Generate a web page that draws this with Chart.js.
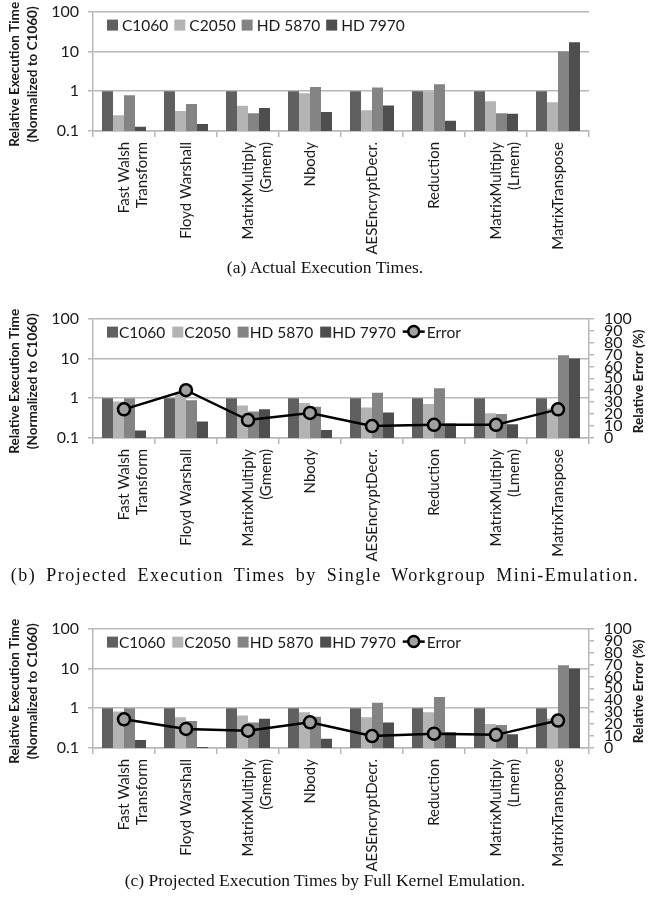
<!DOCTYPE html>
<html>
<head>
<meta charset="utf-8">
<title>Relative Execution Time</title>
<script src="https://cdn.jsdelivr.net/npm/chart.js"></script>
<style>
  body { margin: 0; width: 650px; height: 920px; background: #fff; position: relative; overflow: hidden; }
  .panel { position: absolute; left: 0; width: 650px; }
  .cap { position: absolute; left: 0; width: 650px; text-align: center; font-family: 'Liberation Serif', 'Times New Roman', serif; font-size: 17.5px; color: #111; line-height: 20px; white-space: nowrap; }
  .wide { font-size: 18px; letter-spacing: 1.5px; word-spacing: 4px; }
</style>
</head>
<body>
<div class="panel" style="top:-7px"><canvas id="chartA" width="650" height="270"></canvas></div>
<div class="cap" style="top:257px">(a) Actual Execution Times.</div>
<div class="panel" style="top:300px"><canvas id="chartB" width="650" height="270"></canvas></div>
<div class="cap wide" style="top:565px">(b) Projected Execution Times by Single Workgroup Mini-Emulation.</div>
<div class="panel" style="top:610px"><canvas id="chartC" width="650" height="262"></canvas></div>
<div class="cap" style="top:870px">(c) Projected Execution Times by Full Kernel Emulation.</div>

<script>
// benchmarks and devices
const benchmarks = [['Fast Walsh', 'Transform'], 'Floyd Warshall', ['MatrixMultiply', '(Gmem)'], 'Nbody',
                    'AESEncryptDecr.', 'Reduction', ['MatrixMultiply', '(Lmem)'], 'MatrixTranspose'];
const devices = ['C1060', 'C2050', 'HD 5870', 'HD 7970'];
const timeTicks = [0.1, 1, 10, 100];

// (a) actual execution times, normalized to C1060
const actualC1060  = [1, 1, 1, 1, 1, 1, 1, 1];
const actualC2050  = [0.25, 0.32, 0.43, 0.89, 0.33, 1.0, 0.56, 0.53];
const actualHD5870 = [0.79, 0.48, 0.28, 1.28, 1.24, 1.5, 0.28, 10];
const actualHD7970 = [0.128, 0.15, 0.38, 0.30, 0.44, 0.18, 0.27, 17];

// (b) single workgroup mini-emulation
const miniC1060  = [1, 1, 1, 1, 1, 1, 1, 1];
const miniC2050  = [0.83, 1.33, 0.66, 0.76, 0.58, 0.72, 0.42, 0.55];
const miniHD5870 = [1.0, 0.89, 0.46, 0.61, 1.38, 1.78, 0.40, 12];
const miniHD7970 = [0.155, 0.26, 0.53, 0.16, 0.44, 0.23, 0.22, 10];
const miniError  = [24, 40, 15, 21, 10, 11, 11, 24];

// (c) full kernel emulation
const fullC1060  = [1, 1, 1, 1, 1, 1, 1, 1];
const fullC2050  = [0.83, 0.59, 0.66, 0.79, 0.59, 0.79, 0.40, 0.55];
const fullHD5870 = [1.0, 0.48, 0.44, 0.61, 1.38, 1.9, 0.38, 12];
const fullHD7970 = [0.16, 0.106, 0.54, 0.17, 0.44, 0.25, 0.22, 10];
const fullError  = [24, 16, 14.5, 21.5, 10, 12, 11, 23];

const barColors = ['#606060', '#b4b4b4', '#848484', '#4e4e4e'];
const gridGray = '#b8b8b8';
const textColor = '#1a1a1a';
const sans = 'Lato, Carlito, "Open Sans", sans-serif';

// legend drawn inside the plot area, like the original
const insideLegend = {
    id: 'insideLegend',
    afterDraw(chart, args, opts) {
        const ctx = chart.ctx;
        const area = chart.chartArea;
        let x = area.left + opts.left;
        const y = area.top + opts.top;
        ctx.save();
        ctx.font = '15.5px ' + sans;
        ctx.textBaseline = 'middle';
        chart.data.datasets.forEach(ds => {
            if (ds.type === 'line') {
                ctx.strokeStyle = ds.borderColor;
                ctx.lineWidth = 2.5;
                ctx.beginPath(); ctx.moveTo(x, y); ctx.lineTo(x + 22, y); ctx.stroke();
                ctx.beginPath(); ctx.arc(x + 11, y, 5.5, 0, Math.PI * 2);
                ctx.fillStyle = ds.pointBackgroundColor; ctx.fill(); ctx.stroke();
                x += 24;
            } else {
                ctx.fillStyle = ds.backgroundColor;
                ctx.fillRect(x, y - 5, 11, 11);
                x += opts.boxGap;
            }
            ctx.fillStyle = textColor;
            ctx.fillText(ds.label, x, y + 1);
            x += ctx.measureText(ds.label).width + opts.gap;
        });
        ctx.restore();
    }
};

// axis titles, rotated to read bottom to top on both sides
const sideTitles = {
    id: 'sideTitles',
    afterDraw(chart, args, opts) {
        const ctx = chart.ctx;
        const area = chart.chartArea;
        const cy = (area.top + area.bottom) / 2 + opts.shift;
        ctx.save();
        ctx.textAlign = 'center';
        ctx.textBaseline = 'middle';
        ctx.font = 'bold 13.5px ' + sans;
        ctx.fillStyle = textColor;
        opts.items.forEach(t => {
            ctx.save();
            ctx.translate(t.x, cy);
            ctx.rotate(-Math.PI / 2);
            ctx.fillText(t.text, 0, 0);
            ctx.restore();
        });
        ctx.restore();
    }
};

function makeChart(id, series, error, legendGap, boxGap) {
    const canvas = document.getElementById(id);
    const H = canvas.height;
    const topPad = 18;
    const datasets = series.map((vals, i) => ({
        type: 'bar',
        label: devices[i],
        data: vals,
        backgroundColor: barColors[i],
        yAxisID: 'y',
        order: 1
    }));
    const titles = [
        { text: 'Relative Execution Time', x: 15 },
        { text: '(Normalized to C1060)', x: 33 }
    ];
    const scales = {
        x: {
            offset: true,
            grid: { offset: true, drawOnChartArea: false, tickLength: 6, color: gridGray, lineWidth: 1.5 },
            border: { color: gridGray, width: 1.5 },
            ticks: { autoSkip: false, maxRotation: 90, minRotation: 90, padding: 5, color: textColor,
                     font: { family: sans, size: 15, lineHeight: 1.2 } },
            afterFit: s => { s.height = H - topPad - 120; }
        },
        y: {
            type: 'logarithmic',
            position: 'left',
            min: 0.1,
            max: 100,
            afterBuildTicks: s => { s.ticks = timeTicks.map(v => ({ value: v })); },
            ticks: { autoSkip: false, padding: 9, color: textColor, font: { family: sans, size: 16 },
                     callback: v => String(v) },
            grid: { color: gridGray, lineWidth: 1.5, tickLength: 5 },
            border: { color: gridGray, width: 1.5 },
            afterFit: s => { s.width = 93; }
        }
    };
    let rightPad = 61;
    if (error) {
        datasets.push({
            type: 'line',
            label: 'Error',
            data: error,
            yAxisID: 'yErr',
            borderColor: '#000',
            borderWidth: 2.5,
            pointRadius: 6,
            pointBorderWidth: 2.5,
            pointBackgroundColor: '#a0a0a0',
            pointBorderColor: '#000',
            tension: 0,
            order: 0
        });
        scales.yErr = {
            position: 'right',
            min: 0,
            max: 100,
            ticks: { stepSize: 10, autoSkip: false, padding: 10, color: textColor,
                     font: { family: sans, size: 16, lineHeight: 1 } },
            grid: { drawOnChartArea: false, tickLength: 5, color: gridGray, lineWidth: 1.5 },
            border: { color: gridGray, width: 1.5 },
            afterFit: s => { s.width = 61; }
        };
        titles.push({ text: 'Relative Error (%)', x: 639 });
        rightPad = 0;
    }
    return new Chart(canvas, {
        data: { labels: benchmarks, datasets: datasets },
        options: {
            responsive: false,
            animation: false,
            layout: { padding: { top: topPad, right: rightPad, left: 0, bottom: 0 } },
            datasets: { bar: { categoryPercentage: 0.71, barPercentage: 1 } },
            scales: scales,
            plugins: {
                legend: { display: false },
                tooltip: { enabled: false },
                insideLegend: { left: 14, top: 13, gap: legendGap, boxGap: boxGap },
                sideTitles: { items: titles, shift: 3 }
            }
        },
        plugins: [insideLegend, sideTitles]
    });
}

makeChart('chartA', [actualC1060, actualC2050, actualHD5870, actualHD7970], null, 6, 15);
makeChart('chartB', [miniC1060, miniC2050, miniHD5870, miniHD7970], miniError, 7, 12);
makeChart('chartC', [fullC1060, fullC2050, fullHD5870, fullHD7970], fullError, 7, 12);
</script>
</body>
</html>
